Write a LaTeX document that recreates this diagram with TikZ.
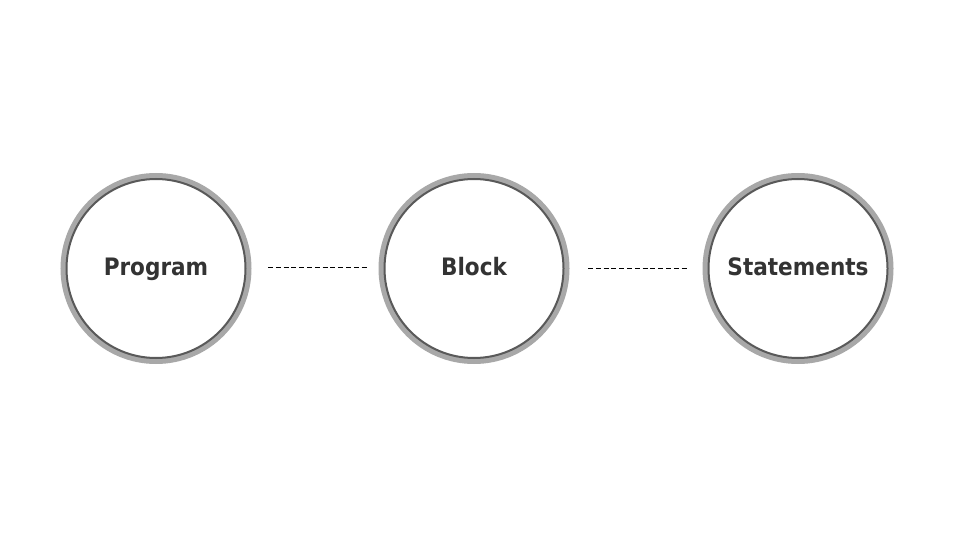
\documentclass[tikz,border=0pt]{standalone}
\usepackage{fontspec}
\setmainfont{DejaVu Sans Condensed}
\usepackage{xcolor}
\usetikzlibrary{positioning}
\definecolor{ringgray}{HTML}{A8A8A8}
\definecolor{edgegray}{HTML}{595959}
\definecolor{textgray}{HTML}{333333}

\begin{document}
\begin{tikzpicture}[
    x=1pt, y=-1pt,
    stagecircle/.style={circle, minimum size=179pt, inner sep=0pt, fill=white,
        draw=edgegray, line width=2pt,
        preaction={draw=ringgray, line width=12pt},
        text height=17pt, text depth=3pt,
        font=\fontsize{24}{26}\selectfont\bfseries, text=textgray},
    link/.style={thin, black, dash pattern=on 5pt off 2.8pt}
]
    \useasboundingbox (0,0) rectangle (960,540);
    \node[stagecircle] (prog) at (156, 268.5) {Program};
    \node[stagecircle] (blk) at (474, 268.5) {Block};
    \node[stagecircle] (stmt) at (798, 268.5) {Statements};

    \draw[link] ([xshift=21.5pt]prog.east |- 0,267.5) -- ([xshift=-16.5pt]blk.west |- 0,267.5);
    \draw[link] ([xshift=23.5pt]blk.east |- 0,268) -- ([xshift=-20.5pt]stmt.west |- 0,268);
\end{tikzpicture}
\end{document}
